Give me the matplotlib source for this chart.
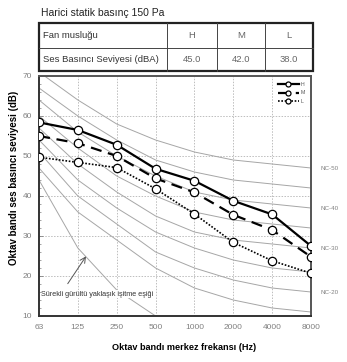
import matplotlib
matplotlib.use("Agg")
import matplotlib.pyplot as plt
import numpy as np

freqs = ["63", "125", "250", "500", "1000", "2000", "4000", "8000"]
H = [58.4, 56.5, 52.8, 46.8, 43.8, 38.8, 35.4, 27.5]
M = [55.0, 53.2, 50.0, 44.4, 40.9, 35.3, 31.5, 24.8]
L = [49.7, 48.4, 47.1, 41.8, 35.5, 28.4, 23.8, 20.7]

nc_names = ["NC-15", "NC-20", "NC-25", "NC-30", "NC-35", "NC-40", "NC-45",
            "NC-50"]
nc_values = [
    [47, 36, 29, 22, 17, 14, 12, 11],
    [51, 40, 33, 26, 22, 19, 17, 16],
    [54, 44, 37, 31, 27, 24, 22, 21],
    [57, 48, 41, 35, 31, 29, 28, 27],
    [60, 52, 45, 40, 36, 34, 33, 32],
    [64, 56, 50, 45, 41, 39, 38, 37],
    [67, 60, 54, 49, 46, 44, 43, 42],
    [71, 64, 58, 54, 51, 49, 48, 47],
]
nc_labeled = ["NC-50", "NC-40", "NC-30", "NC-20"]
threshold = [44, 27, 16.5, 10]

table_title = "Harici statik basınç 150 Pa"
table_rows = [["Fan musluğu", "H", "M", "L"],
              ["Ses Basıncı Seviyesi (dBA)", "45.0", "42.0", "38.0"]]
series_labels = ["H", "M", "L"]

W, Hh = 347, 362
fig = plt.figure(figsize=(W / 100, Hh / 100), dpi=100)
plt.rcParams['font.family'] = ['Liberation Sans', 'DejaVu Sans']

def fx(px):
    return px / W

def fy(py):
    return 1 - py / Hh

ax = fig.add_axes([fx(39), fy(316), fx(311) - fx(39), fy(76) - fy(316)])
x = np.arange(len(freqs))

ax.set_xlim(0, 7)
ax.set_ylim(10, 70)

# grid
for xi in x[1:-1]:
    ax.axvline(xi, color="#bdbdbd", lw=0.7, ls=(0, (1.5, 1.5)), zorder=1)
for yv in range(20, 70, 10):
    ax.axhline(yv, color="#bdbdbd", lw=0.7, ls=(0, (1.5, 1.5)), zorder=1)

for name, vals in zip(nc_names, nc_values):
    ax.plot(x, vals, color="#a6a6a6", lw=0.7, zorder=2)
    if name in nc_labeled:
        ax.text(7.25, vals[-1], name, fontsize=4.5, color="#808080",
                va="center", ha="left", clip_on=False)

ax.plot(x[:len(threshold)], threshold, color="#a6a6a6", lw=0.7, zorder=2)

mk = dict(marker="o", markersize=6, markerfacecolor="white",
          markeredgecolor="black", markeredgewidth=0.9, color="black", zorder=5)
ax.plot(x, H, ls="-", lw=1.6, label=series_labels[0], **mk)
ax.plot(x, M, ls=(0, (5, 3)), lw=1.6, label=series_labels[1], **mk)
ax.plot(x, L, ls=(0, (1, 1)), lw=1.2, label=series_labels[2], **mk)

leg = ax.legend(loc="upper right", fontsize=3.8, frameon=False,
                handlelength=4.0, markerscale=0.6, labelspacing=0.6,
                borderaxespad=0.8, handletextpad=0.3)
for t in leg.get_texts():
    t.set_color("#555555")

ax.annotate("", xy=(1.25, 25.5), xytext=(0.7, 17.5),
            arrowprops=dict(arrowstyle="->", color="#555555", lw=0.7), zorder=6)
ax.text(0.06, 15.5, "Sürekli gürültü yaklaşık işitme eşiği", fontsize=5.2,
        color="#333333", va="center", ha="left", zorder=6,
        bbox=dict(facecolor="white", edgecolor="none", pad=0.5))

ax.set_xticks(x)
ax.set_xticklabels(freqs)
ax.set_yticks(range(10, 71, 10))
ax.set_yticks(np.arange(10, 70, 2), minor=True)
ax.tick_params(axis="both", which="major", labelsize=6, labelcolor="#808080",
               direction="in", length=3, width=0.6, color="#808080", pad=5)
ax.tick_params(axis="both", which="minor", direction="in", length=1.5,
               width=0.5, color="#808080")
ax.tick_params(axis="x", length=0, pad=6)

for s in ["left", "bottom"]:
    ax.spines[s].set_color("#333333")
    ax.spines[s].set_linewidth(1.4)
for s in ["top", "right"]:
    ax.spines[s].set_color("#555555")
    ax.spines[s].set_linewidth(1.4)

ax.set_xlabel("Oktav bandı merkez frekansı (Hz)", fontsize=6.6, fontweight="bold")
ax.xaxis.set_label_coords((184 - 39) / 272, -(348 - 316) / 240)
ax.xaxis.label.set_va("center")
ax.set_ylabel("Oktav bandı ses basıncı seviyesi (dB)", fontsize=7,
              fontweight="bold")
ax.yaxis.set_label_coords(-(39 - 14) / 272, (316 - 178) / 240)
ax.yaxis.label.set_va("center")

# table
fig.text(fx(41), fy(13), table_title, fontsize=7.5, color="#222222",
         va="center", ha="left")
tx = [39, 167, 217, 265, 313]
ty = [23, 47.5, 71]
tab = fig.add_axes([0, 0, 1, 1], zorder=-1)
tab.set_xlim(0, W)
tab.set_ylim(Hh, 0)
tab.axis("off")
tab.add_patch(plt.Rectangle((tx[0], ty[0]), tx[-1] - tx[0], ty[-1] - ty[0],
                            fill=False, ec="#222222", lw=1.6))
tab.plot([tx[0], tx[-1]], [ty[1], ty[1]], color="#444444", lw=0.7)
for xv in tx[1:-1]:
    tab.plot([xv, xv], [ty[0], ty[-1]], color="#444444", lw=0.7)
for r, row in enumerate(table_rows):
    yc = (ty[r] + ty[r + 1]) / 2
    for c, txt in enumerate(row):
        if c == 0:
            tab.text(tx[0] + 4, yc, txt, fontsize=6.8, color="#333333",
                     va="center", ha="left")
        else:
            tab.text((tx[c] + tx[c + 1]) / 2, yc, txt, fontsize=6.8,
                     color="#666666", va="center", ha="center")

fig.savefig("out.png", dpi=100)
